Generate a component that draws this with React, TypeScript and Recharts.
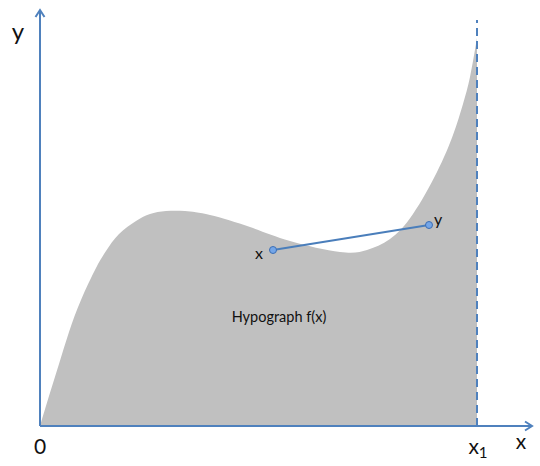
import React from "react";
import {
  ComposedChart, Area, Line, XAxis, YAxis, ReferenceLine, ReferenceDot,
} from "recharts";

// curve f(x) (x from 0 to x1)
const CURVE_X = [0, 9, 19, 29, 41, 56, 66, 79, 96, 110, 126, 145, 170, 210, 250, 300, 327, 350, 373, 397, 413, 423, 430, 437];
const CURVE_Y = [0, 30, 62, 94, 126, 158, 175, 192, 205, 212, 215, 215, 211, 199, 185, 174, 176, 187, 212, 254, 291, 322, 349, 388];

// the chord between the two points x and y
const CHORD_X = [233, 389];
const CHORD_Y = [176, 201];

const X1 = 437;
const X_MAX = 492;
const Y_MAX = 416;

const curve = CURVE_X.map((x, i) => ({ x, y: CURVE_Y[i] }));
const chord = CHORD_X.map((x, i) => ({ x, y: CHORD_Y[i] }));

const BLUE = "#4f81bd";
const FONT = "Lato, 'Open Sans', sans-serif";

// eslint-disable-next-line @typescript-eslint/no-explicit-any
const TextLabel = ({ viewBox, text, size, sub }: any) => {
  const cx = viewBox.x + (viewBox.width ?? 0) / 2;
  const cy = viewBox.y + (viewBox.height ?? 0) / 2;
  return (
    <text x={cx} y={cy} textAnchor="middle" dominantBaseline="central" fontSize={size} fontFamily={FONT} fill="#111">
      {text}
      {sub && <tspan fontSize={size * 0.72} dy={size * 0.35}>{sub}</tspan>}
    </text>
  );
};

const label = (text: string, size: number, sub?: string) => ({
  content: (p: object) => <TextLabel {...p} text={text} size={size} sub={sub} />,
});

export default function App() {
  return (
    <div style={{ position: "absolute", left: 0, top: 0, background: "#fff" }}>
      <svg width={0} height={0} style={{ position: "absolute" }}>
        <defs>
          <marker id="arrow" markerWidth={12} markerHeight={12} refX={9} refY={6} orient="auto" markerUnits="userSpaceOnUse">
            <path d="M2,1.5 L9,6 L2,10.5" fill="none" stroke={BLUE} strokeWidth={2} />
          </marker>
        </defs>
      </svg>
      <ComposedChart width={540} height={466} margin={{ top: 10, right: 8, bottom: 40, left: 40 }}>
        <XAxis type="number" dataKey="x" domain={[0, X_MAX]} hide allowDataOverflow />
        <YAxis type="number" domain={[0, Y_MAX]} hide allowDataOverflow />
        <Area data={curve} dataKey="y" type="natural" fill="#c0c0c0" fillOpacity={1} stroke="none" isAnimationActive={false} />
        <ReferenceLine segment={[{ x: X1, y: 0 }, { x: X1, y: 406 }]} stroke={BLUE} strokeWidth={2} strokeDasharray="8 5" ifOverflow="visible" />
        <ReferenceLine segment={[{ x: 0, y: 0 }, { x: 0, y: Y_MAX }]} stroke={BLUE} strokeWidth={2} markerEnd="url(#arrow)" ifOverflow="visible" />
        <ReferenceLine segment={[{ x: 0, y: 0 }, { x: X_MAX, y: 0 }]} stroke={BLUE} strokeWidth={2} markerEnd="url(#arrow)" ifOverflow="visible" />
        <Line data={chord} dataKey="y" type="linear" stroke="#4a7ebb" strokeWidth={2}
          dot={{ r: 3.5, fill: "#74a6e8", stroke: "#3c6eb4", strokeWidth: 1 }} isAnimationActive={false} />
        <ReferenceDot x={-22} y={396} r={0} ifOverflow="visible" label={label("y", 24)} />
        <ReferenceDot x={0} y={-19} r={0} ifOverflow="visible" label={label("0", 21)} />
        <ReferenceDot x={X1 + 1} y={-19} r={0} ifOverflow="visible" label={label("x", 21, "1")} />
        <ReferenceDot x={481} y={-14} r={0} ifOverflow="visible" label={label("x", 21)} />
        <ReferenceDot x={219} y={174} r={0} ifOverflow="visible" label={label("x", 16)} />
        <ReferenceDot x={398} y={208} r={0} ifOverflow="visible" label={label("y", 16)} />
        <ReferenceDot x={239} y={110} r={0} ifOverflow="visible" label={label("Hypograph f(x)", 14.5)} />
      </ComposedChart>
    </div>
  );
}
